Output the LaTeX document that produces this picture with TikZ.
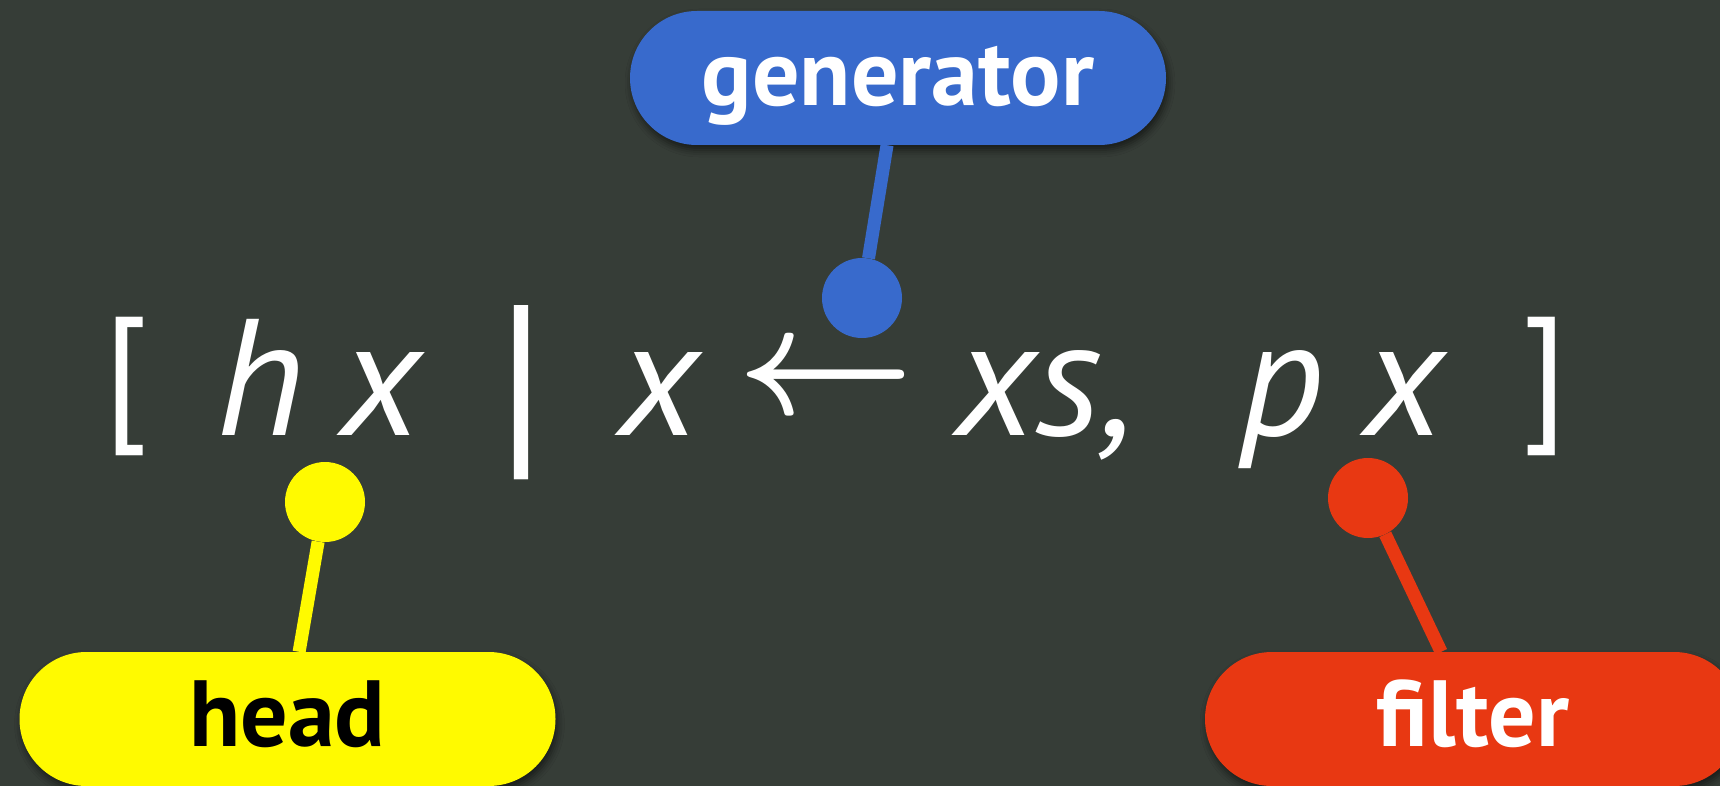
\documentclass[tikz,border=0pt]{standalone}
\usepackage{graphicx}
\usepackage{fontspec}
\setmainfont{PT Sans}
\usetikzlibrary{shadows.blur}
\definecolor{bg}{RGB}{54,61,55}
\definecolor{gblue}{RGB}{56,106,204}
\definecolor{hyellow}{RGB}{255,250,0}
\definecolor{fred}{RGB}{232,56,18}
\begin{document}
\begin{tikzpicture}[x=1pt,y=-1pt,
  pill/.style={rectangle, rounded corners=67pt, minimum width=536pt, minimum height=134pt,
    inner sep=0pt, text height=55pt, text depth=0pt,
    font=\fontsize{94}{94}\selectfont\bfseries,
    blur shadow={shadow xshift=2pt, shadow yshift=-5pt, shadow blur radius=7pt, shadow opacity=55}},
  fml/.style={text=white, inner sep=0pt, font=\fontsize{166}{166}\selectfont\itshape},
  brk/.style={text=white, inner sep=0pt, font=\fontsize{149}{149}\selectfont\upshape},
  vbar/.style={text=white, inner sep=0pt, font=\fontsize{210}{210}\selectfont\upshape},
  ball/.style={circle, minimum size=80pt, inner sep=0pt},
  stem/.style={line width=13pt, line cap=butt}]
\useasboundingbox (0,0) rectangle (1720,786);
\fill[bg] (0,0) rectangle (1720,786);
% formula
\node[brk, anchor=base] (lb) at (126,421) {[};
\node[fml, anchor=base] (h) at (260,435) {h};
\node[fml, anchor=base] (x1) at (381,435) {x};
\node[vbar, anchor=base] (bar) at (521,452) {|};
\node[fml, anchor=base] (x2) at (659,435) {x};
\node[text=white, inner sep=0pt, font=\normalsize] (arr) at (826.5,383) {\scalebox{15.4}[15.5]{\boldmath$\leftarrow$}};
\node[fml, anchor=base] (xs) at (1045,435) {xs,};
\node[fml, anchor=base] (p) at (1282,435) {p};
\node[fml, anchor=base] (x3) at (1404,435) {x};
\node[brk, anchor=base] (rb) at (1545,421) {]};
% balls
\node[ball, fill=gblue] (bG) at (862,298) {};
\node[ball, fill=hyellow] (bH) at (325,502) {};
\node[ball, fill=fred] (bF) at (1368,498) {};
% pills
\node[pill, fill=gblue, text=white] (pG) at (898,78) {generator};
\node[pill, fill=hyellow, text=black] (pH) at (287.5,719) {head};
\node[pill, fill=fred, text=white] (pF) at (1473,719) {filter};
% stems
\draw[stem, gblue] (bG) -- (pG);
\draw[stem, hyellow] (bH) -- (pH);
\draw[stem, fred] (bF) -- (pF);
\end{tikzpicture}
\end{document}
